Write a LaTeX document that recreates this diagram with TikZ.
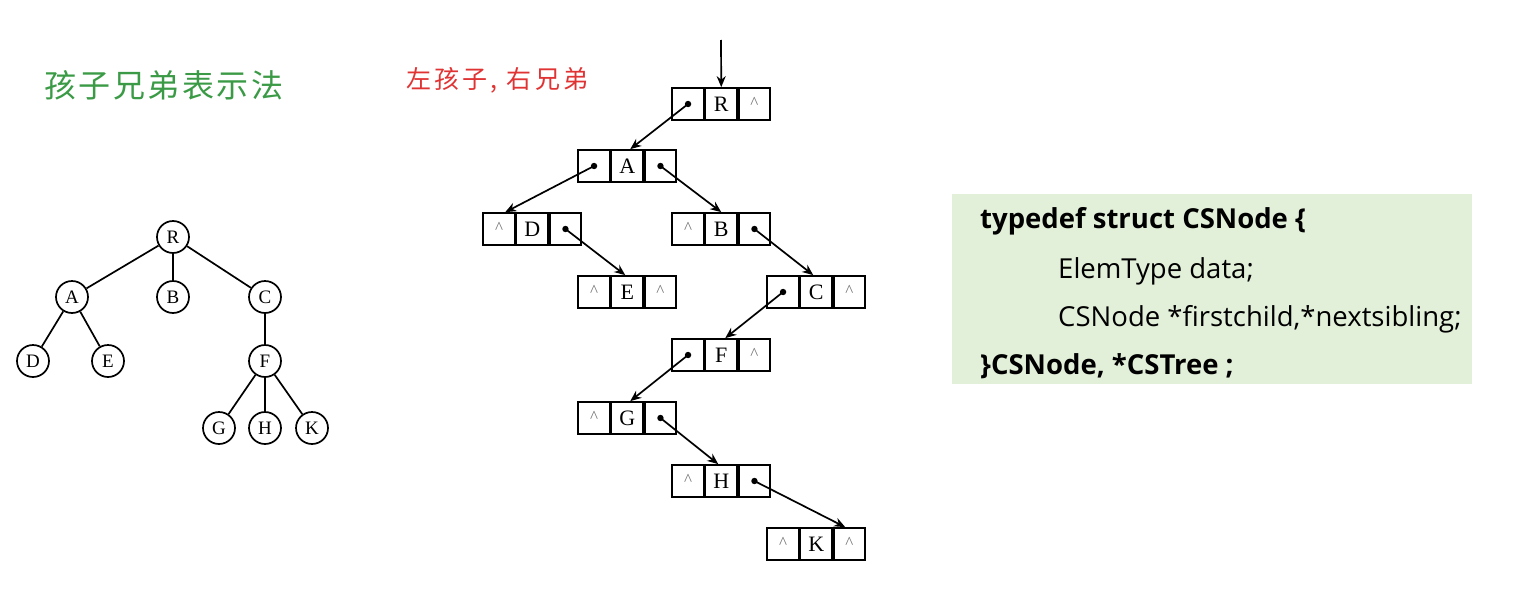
\documentclass[tikz,border=0pt]{standalone}
\usepackage{fontspec}
\setmainfont{Liberation Serif}
\newfontfamily\cjkfont{Noto Sans CJK SC}
\newfontfamily\codefont{Open Sans}
\usetikzlibrary{arrows.meta}
\definecolor{titlegreen}{HTML}{3A9A45}
\definecolor{titlered}{HTML}{E03434}
\definecolor{codebg}{HTML}{E2EFD9}
\definecolor{nullgray}{HTML}{707070}
\tikzset{
  tnode/.style={circle,draw,line width=1.7pt,minimum size=32pt,inner sep=0pt,font=\fontsize{19}{19}\selectfont},
  tedge/.style={line width=1.7pt},
  cell/.style={draw,line width=1.7pt,minimum width=31.5pt,minimum height=32pt,inner sep=0pt,font=\fontsize{22}{22}\selectfont},
  ptr/.style={line width=1.7pt,-{Stealth[length=11pt,width=9pt]}},
  codeline/.style={anchor=base west,inner sep=0pt,font=\codefont\fontsize{27.5}{27.5}\selectfont},
}
\newcommand{\nullmark}{{\color{nullgray}\fontsize{17}{17}\selectfont\raisebox{2pt}{\textasciicircum}}}
% \lnode{id}{x-left}{y-top}{label}{left content}{right content}
\newcommand{\lnode}[6]{%
  \node[cell] (#1-d) at (#2+47.25,#3+16) {#4};
  \node[cell,anchor=east] (#1-l) at (#1-d.west) {#5};
  \node[cell,anchor=west] (#1-r) at (#1-d.east) {#6};
}
\newcommand{\pdot}[1]{\fill (#1.center) circle (3.2pt);}
\begin{document}
\begin{tikzpicture}[x=1pt,y=-1pt]
\useasboundingbox (0,0) rectangle (1514,605);
% titles
\node[text=titlegreen,font=\cjkfont\addfontfeature{LetterSpace=8}\fontsize{32}{32}\selectfont,anchor=west,inner sep=0pt] (title) at (44,85) {孩子兄弟表示法};
\node[text=titlered,font=\cjkfont\addfontfeature{LetterSpace=13}\fontsize{25}{25}\selectfont,anchor=west,inner sep=0pt] (subtitle) at (406,80) {左孩子, 右兄弟};
% ordinary tree
\node[tnode] (tR) at (173,237) {R};
\node[tnode] (tA) at (72,297) {A};
\node[tnode] (tB) at (173,297) {B};
\node[tnode] (tC) at (265,297) {C};
\node[tnode] (tD) at (33,361) {D};
\node[tnode] (tE) at (108,361) {E};
\node[tnode] (tF) at (265,361) {F};
\node[tnode] (tG) at (219,428) {G};
\node[tnode] (tH) at (265,428) {H};
\node[tnode] (tK) at (312,428) {K};
\draw[tedge] (tR) -- (tA);
\draw[tedge] (tR) -- (tB);
\draw[tedge] (tR) -- (tC);
\draw[tedge] (tA) -- (tD);
\draw[tedge] (tA) -- (tE);
\draw[tedge] (tC) -- (tF);
\draw[tedge] (tF) -- (tG);
\draw[tedge] (tF) -- (tH);
\draw[tedge] (tF) -- (tK);
% child-sibling list
\lnode{R}{674}{88}{R}{}{\nullmark}
\lnode{A}{580}{150}{A}{}{}
\lnode{D}{485}{213}{D}{\nullmark}{}
\lnode{B}{674}{213}{B}{\nullmark}{}
\lnode{E}{580}{276}{E}{\nullmark}{\nullmark}
\lnode{C}{769}{276}{C}{}{\nullmark}
\lnode{F}{674}{339}{F}{}{\nullmark}
\lnode{G}{580}{402}{G}{\nullmark}{}
\lnode{H}{674}{465}{H}{\nullmark}{}
\lnode{K}{769}{528}{K}{\nullmark}{\nullmark}
\coordinate (head) at (721,40);
\draw[ptr] (head) -- (R-d.north);
\pdot{R-l}\pdot{A-l}\pdot{A-r}\pdot{D-r}\pdot{B-r}\pdot{C-l}\pdot{F-l}\pdot{G-r}\pdot{H-r}
\draw[ptr] (R-l.center) -- ([xshift=3pt]A-d.north);
\draw[ptr] (A-l.center) -- ([xshift=-27pt]D-d.north);
\draw[ptr] (A-r.center) -- (B-d.north);
\draw[ptr] (D-r.center) -- ([xshift=-2pt]E-d.north);
\draw[ptr] (B-r.center) -- ([xshift=-3pt]C-d.north);
\draw[ptr] (C-l.center) -- ([xshift=4pt]F-d.north);
\draw[ptr] (F-l.center) -- ([xshift=3pt]G-d.north);
\draw[ptr] (G-r.center) -- ([xshift=-3pt]H-d.north);
\draw[ptr] (H-r.center) -- ([xshift=29pt]K-d.north);
% code box
\fill[codebg] (952,194) rectangle (1472,384);
\node[codeline] (c1) at (980,228) {\bfseries typedef struct CSNode \{};
\node[codeline] (c2) at (1058,278) {ElemType data;};
\node[codeline] (c3) at (1058,326) {CSNode *firstchild,*nextsibling;};
\node[codeline] (c4) at (980,374) {\bfseries \}CSNode, *CSTree ;};
\end{tikzpicture}
\end{document}
